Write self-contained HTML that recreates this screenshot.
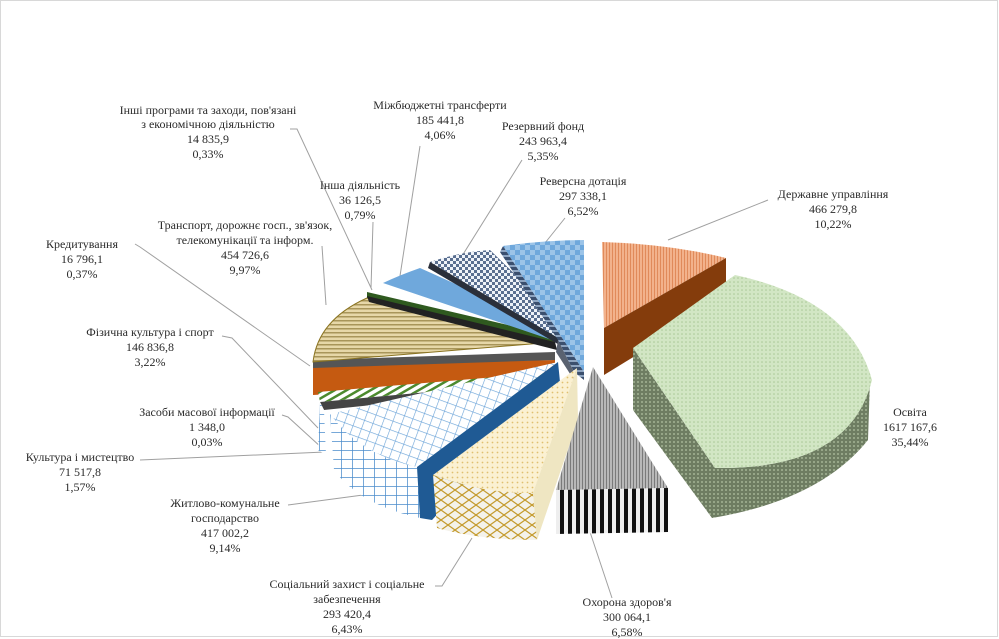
<!DOCTYPE html>
<html><head><meta charset="utf-8"><style>
html,body{margin:0;padding:0;background:#fff}
svg{display:block}
text{font-family:"Liberation Serif",serif;font-size:12px;fill:#2a2a2a;text-anchor:middle}
</style></head><body>
<svg width="999" height="639" viewBox="0 0 999 639" xmlns="http://www.w3.org/2000/svg">
<defs>
<pattern id="pOr" width="3" height="6" patternUnits="userSpaceOnUse"><rect width="3" height="6" fill="#f2b28c"/><rect width="1" height="6" fill="#e08a5a"/></pattern>
<pattern id="pGr" width="4" height="4" patternUnits="userSpaceOnUse"><rect width="4" height="4" fill="#d2e6c4"/><circle cx="2" cy="2" r="0.8" fill="#a9c896"/></pattern>
<pattern id="pGrS" width="4" height="4" patternUnits="userSpaceOnUse"><rect width="4" height="4" fill="#6e7d62"/><circle cx="2" cy="2" r="1" fill="#a3b394"/></pattern>
<pattern id="pGy" width="3" height="6" patternUnits="userSpaceOnUse"><rect width="3" height="6" fill="#b8b8b8"/><rect width="1" height="6" fill="#7a7a7a"/></pattern>
<pattern id="pBW" width="8" height="6" patternUnits="userSpaceOnUse"><rect width="8" height="6" fill="#eee"/><rect width="4" height="6" fill="#111"/></pattern>
<pattern id="pYe" width="5" height="5" patternUnits="userSpaceOnUse"><rect width="5" height="5" fill="#fbf1d2"/><circle cx="2.5" cy="2.5" r="0.9" fill="#e0c070"/></pattern>
<pattern id="pYeS" width="14" height="10" patternUnits="userSpaceOnUse"><rect width="14" height="10" fill="#f4f2ea"/><path d="M0 5 L7 0 L14 5 L7 10 Z" fill="none" stroke="#c49a2c" stroke-width="1.2"/></pattern>
<pattern id="pBl" width="9" height="9" patternUnits="userSpaceOnUse" patternTransform="rotate(20)"><rect width="9" height="9" fill="#fff"/><path d="M0 0H9M0 0V9" stroke="#6aa3d8" stroke-width="1.2"/></pattern>
<pattern id="pBlS" width="11" height="9" patternUnits="userSpaceOnUse"><rect width="11" height="9" fill="#fff"/><path d="M0 0H11M0 0V9" stroke="#4a8ccc" stroke-width="1.5"/></pattern>
<pattern id="pTan" width="6" height="4" patternUnits="userSpaceOnUse"><rect width="6" height="4" fill="#e6d7a8"/><rect width="6" height="1.5" fill="#a8955a"/></pattern>
<pattern id="pChk" width="6" height="6" patternUnits="userSpaceOnUse"><rect width="6" height="6" fill="#eef2f8"/><rect width="3" height="3" fill="#5a6f90"/><rect x="3" y="3" width="3" height="3" fill="#5a6f90"/></pattern>
<pattern id="pBChk" width="10" height="10" patternUnits="userSpaceOnUse"><rect width="10" height="10" fill="#6fa8dc"/><rect width="5" height="5" fill="#9cc4e8"/><rect x="5" y="5" width="5" height="5" fill="#9cc4e8"/></pattern>
<pattern id="pGS" width="6" height="6" patternUnits="userSpaceOnUse" patternTransform="rotate(-30)"><rect width="6" height="6" fill="#fff"/><rect width="6" height="2.5" fill="#4c8a2e"/></pattern>
<pattern id="pStr" width="6" height="5" patternUnits="userSpaceOnUse"><rect width="6" height="5" fill="#3b4f6e"/><rect width="6" height="2" fill="#8ea4c0"/></pattern>
</defs>
<rect x="0.5" y="0.5" width="997" height="636" fill="#fff" stroke="#d8d8d8"/>

<g stroke="#a0a0a0" stroke-width="1" fill="none">
<path d="M290 129 H297 L372 290"/>
<path d="M420 146 L400 276"/>
<path d="M522 160 L462 256"/>
<path d="M565 218 L545 243"/>
<path d="M768 200 L668 240"/>
<path d="M373 222 L371 288"/>
<path d="M322 246 L326 305"/>
<path d="M135 244 L140 247 L310 366"/>
<path d="M222 336 L232 338 L318 428"/>
<path d="M282 415 L288 417 L322 448"/>
<path d="M140 460 L325 452"/>
<path d="M288 505 L363 495"/>
<path d="M435 586 L442 586 L472 538"/>
<path d="M612 598 L590 532"/>
</g>

<path d="M313 365 L313 395 L555 382 L555 360 Z" fill="#c55a11"/>
<path d="M313 360 L555 352 L555 360 L313 368 Z" fill="#555"/>
<path d="M318 392 L555 372 L557 380 L320 402 Z" fill="url(#pGS)"/>
<path d="M320 402 L557 380 L558 386 L324 410 Z" fill="#444"/>
<path d="M320 402 L324 410 L326 455 L318 450 Z" fill="url(#pBlS)"/>
<path d="M555 342 L313 362 Q318 320 367 298 Z" fill="url(#pTan)" stroke="#8a7320" stroke-width="1"/>
<path d="M367 292 L555 336 L555 342 L367 298 Z" fill="#2f5a1f"/>
<path d="M367 296 L555 342 L557 350 L369 302 Z" fill="#222"/>
<path d="M383 283 Q400 275 420 268 L558 330 L558 342 Z" fill="#6fa8dc"/>
<path d="M430 262 Q460 252 490 250 L570 328 L570 345 Z" fill="url(#pChk)"/>
<path d="M430 262 L570 345 L568 350 L428 268 Z" fill="#2a2f3a"/>
<path d="M503 246 Q545 240 584 240 L584 372 Z" fill="url(#pBChk)"/>
<path d="M503 246 L584 372 L584 380 L574 372 L558 340 L500 252 Z" fill="url(#pStr)"/>
<path d="M558 340 L574 372 L574 380 L556 352 Z" fill="#5a6270"/>
<path d="M558 362 L330 414 Q360 455 417 467 Z" fill="url(#pBl)"/>
<path d="M330 414 Q360 455 417 467 L420 518 Q360 505 334 470 Z" fill="url(#pBlS)"/>
<path d="M417 467 L558 362 L560 382 L432 520 L420 518 Z" fill="#1f5a94"/>
<path d="M577 368 L433 475 Q485 494 533 493 Z" fill="url(#pYe)"/>
<path d="M433 475 Q485 494 533 493 L537 540 Q480 540 437 528 Z" fill="url(#pYeS)"/>
<path d="M577 368 L533 493 L537 540 L578 420 Z" fill="#efe6c2"/>
<path d="M593 367 L556 490 L668 488 Z" fill="url(#pGy)"/>
<path d="M556 490 L668 488 L668 532 L556 534 Z" fill="url(#pBW)"/>
<path d="M602 242 Q670 244 726 258 L604 328 Z" fill="url(#pOr)"/>
<path d="M604 328 L726 258 L726 300 L604 375 Z" fill="#843c0c"/>
<path d="M633 348 L633 410 L712 518 Q820 500 868 440 L870 380 Q850 470 715 468 Z" fill="url(#pGrS)"/>
<path d="M633 348 L735 275 Q850 300 872 380 Q850 470 715 468 Z" fill="url(#pGr)"/>

<text x="208" y="114">Інші програми та заходи, пов'язані</text>
<text x="208" y="128">з економічною діяльністю</text>
<text x="208" y="143">14 835,9</text>
<text x="208" y="158">0,33%</text>
<text x="440" y="109">Міжбюджетні трансферти</text>
<text x="440" y="124">185 441,8</text>
<text x="440" y="139">4,06%</text>
<text x="543" y="130">Резервний фонд</text>
<text x="543" y="145">243 963,4</text>
<text x="543" y="160">5,35%</text>
<text x="583" y="185">Реверсна дотація</text>
<text x="583" y="200">297 338,1</text>
<text x="583" y="215">6,52%</text>
<text x="833" y="198">Державне управління</text>
<text x="833" y="213">466 279,8</text>
<text x="833" y="228">10,22%</text>
<text x="360" y="189">Інша діяльність</text>
<text x="360" y="204">36 126,5</text>
<text x="360" y="219">0,79%</text>
<text x="245" y="229">Транспорт, дорожнє госп., зв'язок,</text>
<text x="245" y="244">телекомунікації та інформ.</text>
<text x="245" y="259">454 726,6</text>
<text x="245" y="274">9,97%</text>
<text x="82" y="248">Кредитування</text>
<text x="82" y="263">16 796,1</text>
<text x="82" y="278">0,37%</text>
<text x="150" y="336">Фізична культура  і спорт</text>
<text x="150" y="351">146 836,8</text>
<text x="150" y="366">3,22%</text>
<text x="207" y="416">Засоби масової інформації</text>
<text x="207" y="431">1 348,0</text>
<text x="207" y="446">0,03%</text>
<text x="80" y="461">Культура  і мистецтво</text>
<text x="80" y="476">71 517,8</text>
<text x="80" y="491">1,57%</text>
<text x="225" y="507">Житлово-комунальне</text>
<text x="225" y="522">господарство</text>
<text x="225" y="537">417 002,2</text>
<text x="225" y="552">9,14%</text>
<text x="347" y="588">Соціальний захист  і соціальне</text>
<text x="347" y="603">забезпечення</text>
<text x="347" y="618">293 420,4</text>
<text x="347" y="633">6,43%</text>
<text x="627" y="606">Охорона здоров'я</text>
<text x="627" y="621">300 064,1</text>
<text x="627" y="636">6,58%</text>
<text x="910" y="416">Освіта</text>
<text x="910" y="431">1617 167,6</text>
<text x="910" y="446">35,44%</text>
</svg>
</body></html>
